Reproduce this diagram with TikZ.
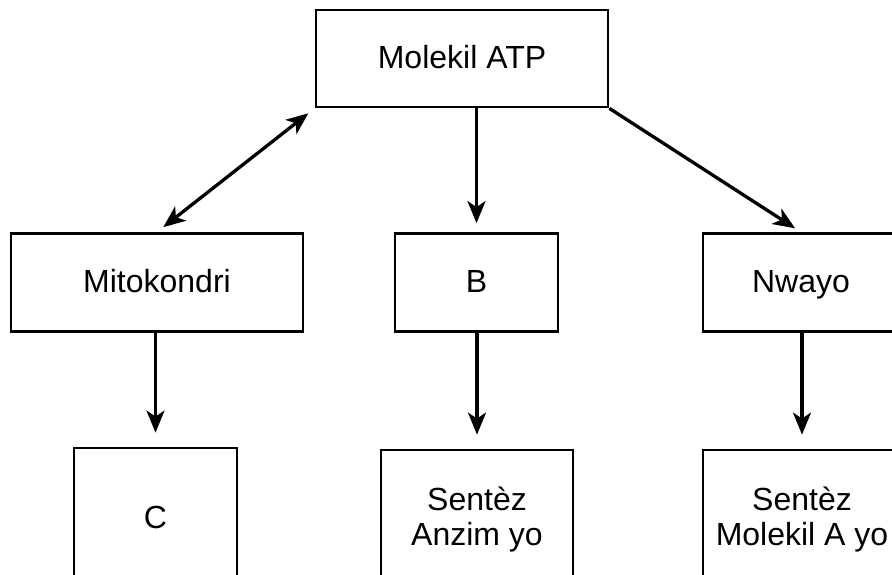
\documentclass[tikz,border=0pt]{standalone}
\usepackage{fontspec}
\setmainfont{Liberation Sans}
\usetikzlibrary{arrows.meta}
\tikzset{
  box/.style={draw, line width=2.8pt, fill=white, align=center, inner sep=0pt},
  oneline/.style={text height=25pt, text depth=5pt},
  tip/.tip={Stealth[length=22pt,width=18pt,inset=6pt]},
  link/.style={line width=3.3pt, -tip}
}
\begin{document}
\begin{tikzpicture}[x=1pt, y=-1pt, font=\fontsize{32}{35}\selectfont, line join=miter]
\useasboundingbox (0,0) rectangle (892,575);
\clip (0,0) rectangle (892,575);
% Boxes
\node[box, oneline, minimum width=292pt, minimum height=97pt] (atp) at (462,58.5) {Molekil ATP};
\node[box, oneline, minimum width=292pt, minimum height=98pt] (mito) at (157,282.5) {Mitokondri};
\node[box, oneline, minimum width=163pt, minimum height=98pt] (b) at (476.5,282.5) {B};
\node[box, oneline, minimum width=196pt, minimum height=98pt] (nwayo) at (801,282.5) {Nwayo};
\node[box, oneline, minimum width=163pt, minimum height=140pt] (c) at (155.5,518) {C};
\node[box, minimum width=192pt, minimum height=140pt] (anzim) at (477,520) {Sentèz\\Anzim yo};
\node[box, minimum width=198pt, minimum height=140pt] (molA) at (802,520) {Sentèz\\Molekil A yo};
% Links
\draw[link, tip-tip, shorten <=8pt, shorten >=8pt] (atp.south west) -- (mito.north);
\draw[link, shorten >=9pt] (b.north |- atp.south) -- (b.north);
\draw[link, shorten >=7pt] (atp.south east) -- (nwayo.north);
\draw[link, shorten >=14pt] (c.north |- mito.south) -- (c.north);
\draw[link, shorten >=14pt] (anzim.north |- b.south) -- (anzim.north);
\draw[link, shorten >=14pt] (molA.north |- nwayo.south) -- (molA.north);
\end{tikzpicture}
\end{document}
